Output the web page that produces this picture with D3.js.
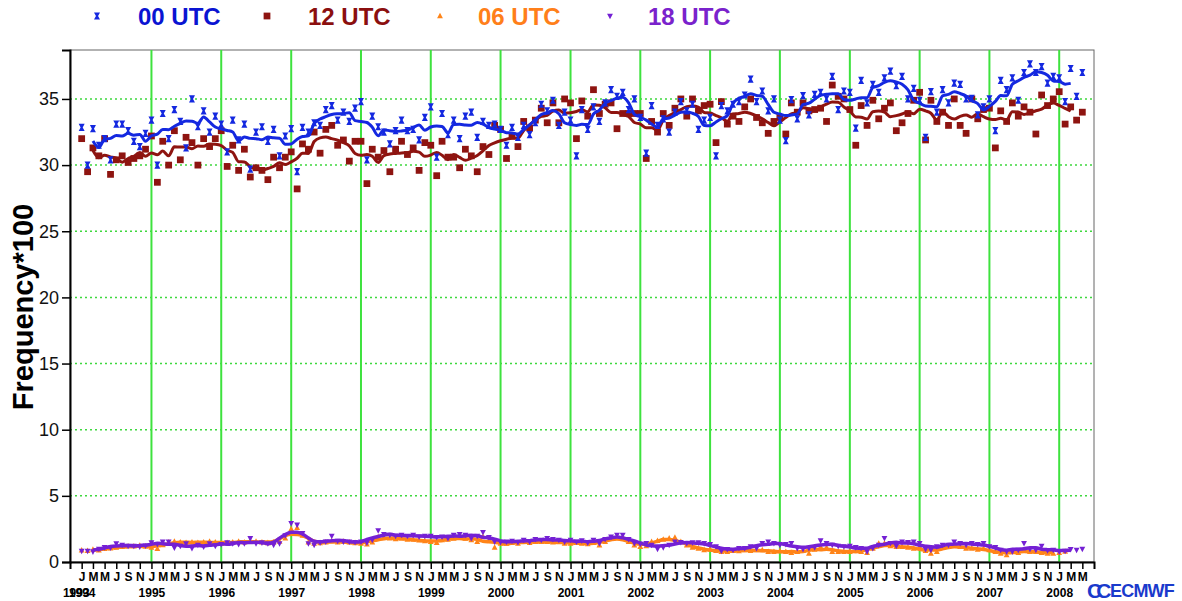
<!DOCTYPE html>
<html>
<head>
<meta charset="utf-8">
<script src="https://cdn.jsdelivr.net/npm/d3@7"></script>
<style>
  body { margin: 0; background: #fff; }
  svg { display: block; font-family: "Liberation Sans", Arial, Helvetica, sans-serif; }
</style>
</head>
<body>
<svg id="chart" width="1182" height="601"></svg>
<script>
'use strict';

// monthly values, first value = Jan 1994
var utc00 = [
  32.85, 30.0, 32.75, 31.5, 32.0, 30.4, 33.1, 33.1, 32.6, 31.8, 31.4, 32.4,
  33.4, 30.0, 33.9, 32.0, 34.2, 33.3, 31.3, 35.0, 32.9, 34.1, 32.5, 33.7,
  33.1, 31.0, 33.4, 31.9, 33.1, 29.7, 32.5, 32.9, 31.8, 32.7, 30.7, 32.2,
  32.75, 29.5, 32.85, 32.5, 33.2, 33.0, 34.2, 34.5, 33.4, 34.0, 33.3, 34.3,
  34.8, 30.4, 33.7, 32.9, 32.5, 31.6, 32.6, 33.4, 32.6, 32.7, 31.9, 33.6,
  34.4, 30.6, 33.9, 32.3, 33.4, 32.0, 33.7, 34.0, 32.1, 33.3, 33.0, 33.1,
  32.7, 31.5, 32.85, 32.1, 33.0, 32.3, 33.2, 34.6, 34.1, 34.9, 33.0, 34.0,
  33.4, 30.7, 34.2, 32.7, 34.4, 33.3, 34.7, 35.7, 35.2, 35.5, 34.2, 35.0,
  33.6, 30.9, 34.5, 33.0, 33.5, 32.5, 34.0, 34.8, 34.1, 34.6, 32.7, 33.4,
  33.6, 30.7, 34.5, 34.1, 34.6, 34.8, 35.3, 36.5, 34.8, 35.6, 34.1, 35.0,
  33.4, 31.85, 34.95, 33.5, 35.25, 33.8, 35.35, 35.5, 35.0, 36.7, 34.2, 35.6,
  35.5, 32.8, 36.4, 34.7, 36.1, 35.5, 36.6, 37.1, 36.0, 36.7, 35.0, 35.8,
  34.9, 32.1, 35.55, 34.0, 35.7, 34.7, 36.2, 36.1, 35.0, 35.05, 33.8, 34.4,
  35.0, 32.6, 36.4, 35.7, 36.6, 34.9, 37.0, 37.65, 37.0, 37.45, 36.2, 36.7,
  36.6, 34.8, 37.3, 35.2, 37.0
];

var utc12 = [
  32.0, 29.5, 31.3, 30.7, 32.0, 29.3, 30.4, 30.7, 30.2, 30.5, 30.7, 31.2,
  32.2, 28.7, 31.8, 30.0, 32.6, 30.4, 32.1, 31.7, 30.0, 32.0, 31.4, 32.0,
  32.6, 29.9, 31.5, 29.6, 31.2, 29.1, 29.8, 29.6, 28.9, 30.6, 29.8, 30.6,
  31.0, 28.2, 31.6, 31.2, 32.5, 30.9, 32.7, 33.0, 31.5, 31.9, 30.3, 31.8,
  31.8, 28.6, 31.2, 30.6, 31.1, 29.5, 31.2, 31.8, 30.8, 31.3, 29.6, 31.7,
  31.5, 29.2, 31.8, 30.6, 30.6, 29.8, 31.2, 30.7, 29.5, 31.4, 30.8, 33.0,
  32.7, 30.5, 32.2, 31.4, 33.3, 32.8, 33.4, 34.3, 33.2, 34.7, 33.2, 35.0,
  34.7, 32.0, 34.85, 33.7, 35.7, 33.9, 34.6, 34.7, 32.75, 33.9, 33.9, 33.9,
  33.9, 30.5, 33.3, 32.5, 33.9, 33.0, 34.3, 35.0, 33.7, 35.0, 34.1, 34.5,
  34.6, 31.7, 34.8, 33.1, 33.7, 33.3, 34.4, 35.0, 33.6, 33.2, 32.4, 33.3,
  33.6, 32.35, 34.7, 34.0, 34.7, 34.1, 34.2, 34.3, 33.3, 36.05, 35.2, 35.0,
  34.2, 31.5, 34.5, 33.0, 34.9, 33.5, 34.3, 34.7, 32.6, 33.2, 33.9, 34.9,
  35.5, 31.9, 34.9, 33.3, 34.0, 33.0, 35.0, 33.0, 32.4, 35.0, 33.5, 34.2,
  34.3, 31.3, 34.1, 33.3, 34.7, 33.7, 34.4, 34.0, 32.35, 35.3, 34.5, 35.0,
  35.55, 33.1, 34.4, 33.4, 34.0
];

var utc06 = [
  0.9, 0.85, 0.95, 0.9, 1.0, 1.05, 1.1, 1.15, 1.2, 1.2, 1.25, 1.2,
  1.1, 1.0, 1.3, 1.5, 1.55, 1.5, 1.45, 1.5, 1.45, 1.5, 1.55, 1.5,
  1.4, 1.45, 1.5, 1.55, 1.5, 1.6, 1.55, 1.5, 1.45, 1.5, 1.55, 1.8,
  2.5, 2.6, 2.0, 1.5, 1.4, 1.45, 1.5, 1.6, 1.5, 1.55, 1.5, 1.45,
  1.4, 1.35, 1.5, 1.9, 1.85, 1.8, 1.75, 1.8, 1.7, 1.7, 1.65, 1.6,
  1.53, 1.46, 1.66, 1.71, 1.79, 1.91, 1.79, 1.66, 1.53, 1.91, 1.66, 1.1,
  1.41, 1.41, 1.46, 1.41, 1.53, 1.46, 1.53, 1.53, 1.53, 1.49, 1.53, 1.41,
  1.41, 1.46, 1.41, 1.36, 1.46, 1.28, 1.53, 1.79, 1.91, 1.91, 1.53, 1.28,
  1.16, 1.21, 1.53, 1.61, 1.71, 1.79, 1.86, 1.53, 1.28, 1.1, 1.03, 0.91,
  0.96, 0.86, 0.78, 0.78, 0.86, 0.83, 0.91, 0.86, 0.91, 0.91, 0.78, 0.78,
  0.83, 0.78, 0.71, 0.78, 0.86, 0.65, 0.96, 1.16, 1.1, 0.78, 0.78, 0.78,
  0.78, 0.86, 0.78, 0.71, 1.03, 1.41, 1.41, 1.21, 1.16, 1.16, 1.1, 1.03,
  1.16, 0.86, 0.65, 0.78, 1.1, 1.16, 1.28, 1.16, 1.03, 1.03, 0.96, 1.03,
  0.91, 0.78, 0.65, 0.53, 0.78, 0.71, 0.91, 0.78, 0.78, 0.71, 0.65, 0.65,
  0.71, 0.8
];

var utc18 = [
  0.83, 0.83, 0.78, 0.98, 1.1, 1.08, 1.4, 1.28, 1.2, 1.2, 1.15, 1.23,
  1.46, 1.33, 1.53, 1.53, 1.08, 1.2, 1.4, 1.03, 1.28, 1.15, 1.4, 1.2,
  1.33, 1.46, 1.4, 1.33, 1.4, 1.78, 1.4, 1.46, 1.4, 1.28, 1.4, 2.0,
  2.92, 2.8, 2.17, 1.4, 1.28, 1.46, 1.53, 1.96, 1.59, 1.53, 1.53, 1.49,
  1.53, 1.46, 1.66, 2.37, 2.1, 2.04, 1.96, 2.04, 1.96, 2.04, 1.91, 1.96,
  1.96, 1.86, 1.91, 1.79, 2.04, 2.09, 2.04, 1.79, 1.96, 2.24, 1.86, 1.53,
  1.49, 1.53, 1.59, 1.49, 1.66, 1.53, 1.71, 1.66, 1.79, 1.71, 1.66, 1.53,
  1.66, 1.53, 1.61, 1.46, 1.66, 1.41, 1.71, 1.91, 2.04, 2.04, 1.71, 1.41,
  1.36, 1.41, 1.28, 0.98, 1.1, 1.28, 1.53, 1.49, 1.41, 1.46, 1.46, 1.41,
  1.33, 1.16, 0.83, 0.96, 0.91, 1.03, 1.03, 1.16, 1.03, 1.41, 1.53, 1.41,
  1.28, 1.33, 1.41, 1.03, 0.96, 1.03, 1.1, 1.61, 1.41, 1.28, 1.21, 1.16,
  1.21, 1.1, 1.03, 0.78, 1.03, 1.28, 1.79, 1.41, 1.21, 1.53, 1.49, 1.53,
  1.41, 0.96, 0.91, 1.16, 1.28, 1.28, 1.53, 1.41, 1.28, 1.41, 1.33, 1.41,
  1.16, 1.1, 0.91, 0.78, 0.78, 0.91, 1.41, 0.96, 0.91, 1.21, 0.86, 0.91,
  0.78, 0.83, 0.96, 0.91, 0.98
];

var monthLetters = ['J', 'F', 'M', 'A', 'M', 'J', 'J', 'A', 'S', 'O', 'N', 'D'];
var yTicks = [0, 5, 10, 15, 20, 25, 30, 35];
var yearLabels = [1993, 1994, 1995, 1996, 1997, 1998, 1999, 2000, 2001,
                  2002, 2003, 2004, 2005, 2006, 2007, 2008];
var gridYears = [1995, 1996, 1997, 1998, 1999, 2000, 2001, 2002, 2003,
                 2004, 2005, 2006, 2007, 2008];

// bowtie marker with a narrow waist, like the ECMWF "x"
var hourglass = { draw: function(ctx, size) {
  var w = Math.sqrt(size) / 2, h = w * 1.2, waist = w * 0.35;
  ctx.moveTo(-w, -h); ctx.lineTo(w, -h); ctx.lineTo(waist, 0);
  ctx.lineTo(w, h); ctx.lineTo(-w, h); ctx.lineTo(-waist, 0); ctx.closePath();
}};
var triDown = { draw: function(ctx, size) {
  var w = Math.sqrt(size) / 2;
  ctx.moveTo(-w, -w * 0.8); ctx.lineTo(w, -w * 0.8); ctx.lineTo(0, w * 1.1); ctx.closePath();
}};
var triUp = { draw: function(ctx, size) {
  var w = Math.sqrt(size) / 2;
  ctx.moveTo(-w, w * 0.8); ctx.lineTo(w, w * 0.8); ctx.lineTo(0, -w * 1.1); ctx.closePath();
}};

var series = [
  { name: '00 UTC', values: utc00, color: '#1428e0', text: '#0a14d2', type: hourglass, size: 36, width: 3, legendX: 97, textX: 138 },
  { name: '12 UTC', values: utc12, color: '#8e1410', text: '#8b0f0f', type: d3.symbolSquare, size: 46, width: 3, legendX: 267, textX: 308 },
  { name: '06 UTC', values: utc06, color: '#ff8418', text: '#ff7f1a', type: triUp, size: 34, width: 3.5, legendX: 440, textX: 478 },
  { name: '18 UTC', values: utc18, color: '#7420d4', text: '#7a22cc', type: triDown, size: 34, width: 3.5, legendX: 610, textX: 648 }
];

var svg = d3.select('#chart');
var start = new Date(Date.UTC(1994, 0, 1));
var monthDate = function(i) { return d3.utcMonth.offset(start, i); };

var x = d3.scaleUtc()
  .domain([new Date(Date.UTC(1993, 10, 1)), new Date(Date.UTC(2008, 6, 1))])
  .range([70, 1094]);
var y = d3.scaleLinear().domain([0, 38.7]).range([562, 50]);

var plotLeft = x.range()[0], plotRight = x.range()[1];
var plotTop = y.range()[1], plotBottom = y.range()[0];

// frame
svg.append('rect')
  .attr('x', plotLeft).attr('y', plotTop)
  .attr('width', plotRight - plotLeft).attr('height', plotBottom - plotTop)
  .attr('fill', 'none').attr('stroke', '#666').attr('stroke-width', 1);

// horizontal dotted grid
svg.selectAll('.hgrid')
  .data(yTicks.filter(function(d) { return d > 0; }))
  .enter().append('line')
  .attr('class', 'hgrid')
  .attr('x1', plotLeft).attr('x2', plotRight)
  .attr('y1', function(d) { return y(d); }).attr('y2', function(d) { return y(d); })
  .attr('stroke', '#3ed83e').attr('stroke-width', 1.5)
  .attr('stroke-dasharray', '2,3');

// vertical year lines
svg.selectAll('.vgrid')
  .data(gridYears)
  .enter().append('line')
  .attr('class', 'vgrid')
  .attr('x1', function(d) { return x(new Date(Date.UTC(d, 0, 1))); })
  .attr('x2', function(d) { return x(new Date(Date.UTC(d, 0, 1))); })
  .attr('y1', plotTop).attr('y2', plotBottom)
  .attr('stroke', '#3ee23e').attr('stroke-width', 2);

// running mean, 5 months centred
function runningMean(vals) {
  var out = [];
  for (var i = 2; i < vals.length - 2; i++) {
    out.push({ i: i, v: d3.mean(vals.slice(i - 2, i + 3)) });
  }
  return out;
}

var line = d3.line()
  .x(function(d) { return x(monthDate(d.i)); })
  .y(function(d) { return y(d.v); })
  .curve(d3.curveMonotoneX);

// draw order: 12, 00 on top; then 06, 18
[series[1], series[0], series[2], series[3]].forEach(function(s) {
  var g = svg.append('g');
  g.selectAll('path.pt')
    .data(s.values)
    .enter().append('path')
    .attr('class', 'pt')
    .attr('d', d3.symbol().type(s.type).size(s.size))
    .attr('transform', function(d, i) {
      return 'translate(' + x(monthDate(i)) + ',' + y(d) + ')';
    })
    .attr('fill', s.color);
  g.append('path')
    .datum(runningMean(s.values))
    .attr('d', line)
    .attr('fill', 'none')
    .attr('stroke', s.color)
    .attr('stroke-width', s.width)
    .attr('stroke-linejoin', 'round');
});

// y axis
var yAxis = svg.append('g')
  .attr('transform', 'translate(' + plotLeft + ',0)')
  .call(d3.axisLeft(y).tickValues(yTicks).tickSize(8).tickPadding(3));
yAxis.select('.domain').attr('stroke', '#000').attr('stroke-width', 2);
yAxis.selectAll('.tick line').attr('stroke', '#000').attr('stroke-width', 1.5);
yAxis.selectAll('.tick text').attr('font-size', 18).attr('fill', '#111')
  .attr('font-family', '"Liberation Sans", Arial, sans-serif');

svg.append('text')
  .attr('transform', 'translate(33,307) rotate(-90)')
  .attr('text-anchor', 'middle')
  .attr('font-size', 29).attr('font-weight', 'bold').attr('fill', '#000')
  .text('Frequency*100');

// x axis: month letters every 2 months
var monthTicks = d3.utcMonths(start, new Date(Date.UTC(2008, 5, 1)), 2);
var xAxis = svg.append('g')
  .attr('transform', 'translate(0,' + plotBottom + ')')
  .call(d3.axisBottom(x).tickValues(monthTicks).tickSize(7).tickPadding(3)
    .tickFormat(function(d) { return monthLetters[d.getUTCMonth()]; }));
xAxis.select('.domain').attr('stroke', '#000').attr('stroke-width', 2);
xAxis.selectAll('.tick line').attr('stroke', '#000').attr('stroke-width', 1.5);
xAxis.selectAll('.tick text').attr('font-size', 12).attr('font-weight', 'bold').attr('fill', '#000')
  .attr('font-family', '"Liberation Sans", Arial, sans-serif');

// year labels
var yearAxis = svg.append('g')
  .attr('transform', 'translate(0,' + plotBottom + ')')
  .call(d3.axisBottom(x)
    .tickValues(yearLabels.map(function(yr) {
      return yr === 1993 ? new Date(Date.UTC(1993, 11, 1)) : new Date(Date.UTC(yr, 0, 1));
    }))
    .tickSize(0).tickPadding(26)
    .tickFormat(function(d) { return d.getUTCFullYear(); }));
yearAxis.select('.domain').remove();
yearAxis.selectAll('.tick text').attr('font-size', 12).attr('font-weight', 'bold').attr('fill', '#000')
  .attr('font-family', '"Liberation Sans", Arial, sans-serif');

// legend
series.forEach(function(s) {
  svg.append('path')
    .attr('d', d3.symbol().type(s.type).size(s.size))
    .attr('transform', 'translate(' + s.legendX + ',16)')
    .attr('fill', s.color);
  svg.append('text')
    .attr('x', s.textX).attr('y', 25)
    .attr('font-size', 24).attr('font-weight', 'bold')
    .attr('fill', s.text)
    .text(s.name);
});

// ECMWF logo
var logo = svg.append('g').attr('fill', '#1a3acc').attr('font-weight', 'bold');
logo.append('text').attr('x', 1087).attr('y', 598).attr('font-size', 21).attr('letter-spacing', -6).text('CC');
logo.append('text').attr('x', 1110).attr('y', 597).attr('font-size', 18).attr('letter-spacing', -0.8).text('ECMWF');
</script>
</body>
</html>
